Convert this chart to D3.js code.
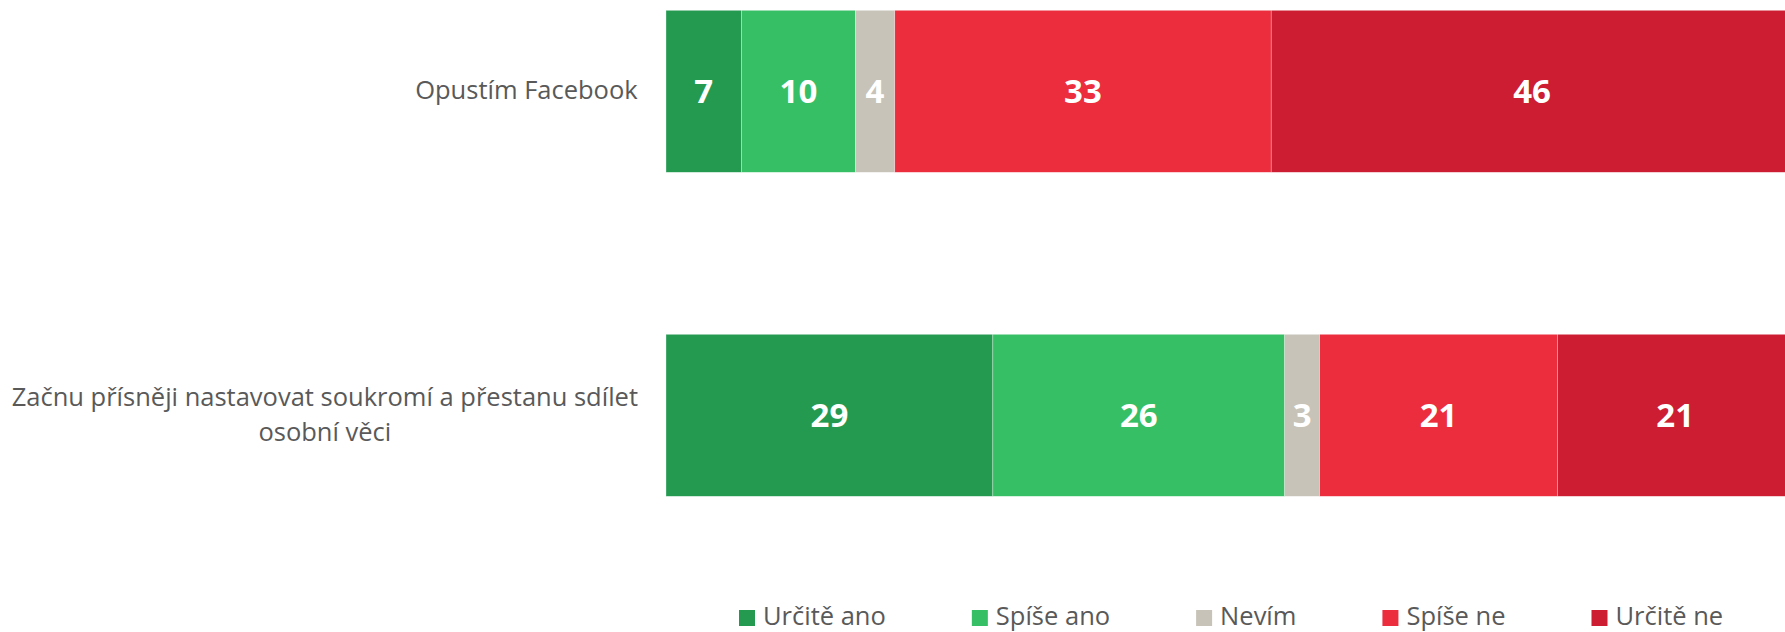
<!DOCTYPE html>
<html>
<head>
<meta charset="utf-8">
<script src="https://cdn.jsdelivr.net/npm/d3@7"></script>
<style>
  html, body { margin: 0; padding: 0; background: #fff; }
  svg { display: block; }
  text { font-family: "Open Sans", sans-serif; }
</style>
</head>
<body>
<svg id="chart" width="1785" height="632"></svg>
<script>
// ---- data (percent; labels show rounded values) ----
const categories = ["Opustím Facebook", "Začnu přísněji nastavovat soukromí a přestanu sdílet osobní věci"];
const categoryLines = [["Opustím Facebook"], ["Začnu přísněji nastavovat soukromí a přestanu sdílet", "osobní věci"]];
const seriesNames = ["Určitě ano", "Spíše ano", "Nevím", "Spíše ne", "Určitě ne"];
const urciteAno = [6.7, 29.0];
const spiseAno = [10.1, 25.9];
const nevim = [3.5, 3.1];
const spiseNe = [33.4, 21.1];
const urciteNe = [46.3, 20.9];
const seriesColors = ["#249A50", "#36BF64", "#C7C3B8", "#EC2D3D", "#CC1D33"];

// ---- build table ----
const seriesValues = [urciteAno, spiseAno, nevim, spiseNe, urciteNe];
const table = categories.map((c, i) => {
  const row = { cat: c };
  seriesNames.forEach((s, j) => row[s] = seriesValues[j][i]);
  return row;
});
const stack = d3.stack().keys(seriesNames)(table);

const svg = d3.select("#chart");
const x = d3.scaleLinear().domain([0, 100]).range([666, 1793]);
const y = d3.scaleBand().domain(categories).range([-70.7, 577.3]).paddingInner(0.5).paddingOuter(0.25);
const color = d3.scaleOrdinal().domain(seriesNames).range(seriesColors);

// bars
const layers = svg.append("g").selectAll("g").data(stack).join("g")
  .attr("fill", d => color(d.key));
layers.selectAll("rect").data(d => d.map(v => ({ v, key: d.key }))).join("rect")
  .attr("x", d => x(d.v[0]))
  .attr("width", d => x(d.v[1]) - x(d.v[0]))
  .attr("y", d => y(d.v.data.cat))
  .attr("height", y.bandwidth())
  .attr("stroke", "#fff")
  .attr("stroke-width", 0.6)
  .attr("stroke-opacity", 0.5);

// value labels
layers.selectAll("text").data(d => d.map(v => ({ v, key: d.key }))).join("text")
  .attr("x", d => (x(d.v[0]) + x(d.v[1])) / 2)
  .attr("y", d => y(d.v.data.cat) + y.bandwidth() / 2 + 12)
  .attr("text-anchor", "middle")
  .attr("fill", "#fff")
  .attr("font-weight", "bold")
  .attr("font-size", 33)
  .text(d => d3.format(".0f")(d.v.data[d.key]));

// category labels
const catG = svg.append("g");
categories.forEach((c, i) => {
  const lines = categoryLines[i];
  const lh = 35;
  const cy = y(c) + y.bandwidth() / 2;
  const t = catG.append("text")
    .attr("fill", "#595959")
    .attr("font-size", 25.5)
    .attr("text-anchor", "middle");
  lines.forEach((ln, k) => {
    t.append("tspan")
      .attr("x", 0)
      .attr("y", cy + 7.7 + (k - (lines.length - 1) / 2) * lh)
      .text(ln);
  });
  const bw = t.node().getBBox().width;
  t.selectAll("tspan").attr("x", 638 - bw / 2);
});

// legend
const leg = svg.append("g");
const items = seriesNames.map((s, i) => {
  const g = leg.append("g");
  g.append("rect").attr("x", 0).attr("y", 610).attr("width", 16).attr("height", 16).attr("fill", color(s));
  const t = g.append("text").attr("x", 24).attr("y", 625).attr("font-size", 25.5).attr("fill", "#595959").text(s);
  return { g, w: 24 + t.node().getComputedTextLength() };
});
const gap = 86;
let cx = 739;
items.forEach(it => { it.g.attr("transform", `translate(${cx},0)`); cx += it.w + gap; });
</script>
</body>
</html>
